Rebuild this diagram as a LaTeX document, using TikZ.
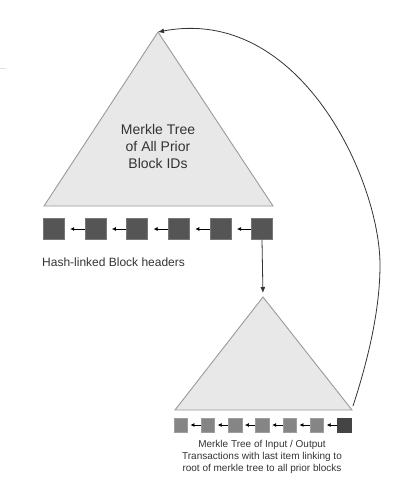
\documentclass[tikz,border=0pt]{standalone}
\usepackage{fontspec}
\setmainfont{Liberation Sans}
\usetikzlibrary{arrows.meta}
\definecolor{trifill}{HTML}{E8E8E8}
\definecolor{triedge}{HTML}{9A9A9A}
\definecolor{darksq}{HTML}{555555}
\definecolor{midsq}{HTML}{858585}
\definecolor{lastsq}{HTML}{444444}
\definecolor{txt}{HTML}{333333}
\tikzset{
  tri/.style={fill=trifill,draw=triedge,line width=0.9pt,line join=miter},
  bigsq/.style={draw=darksq!80!white,fill=darksq,minimum size=21pt,inner sep=0pt,line width=0.4pt},
  smallsq/.style={draw=midsq!80!white,fill=midsq,minimum size=13.5pt,inner sep=0pt,line width=0.4pt},
  link/.style={draw=black,line width=0.7pt,-{Latex[length=4pt,width=4pt]}},
  flow/.style={draw=black!80,line width=0.8pt,-{Latex[length=6pt,width=5pt]}},
  lbl/.style={text=txt,inner sep=0pt}
}
\begin{document}
\begin{tikzpicture}[x=1pt,y=-1pt]
\useasboundingbox (0,0) rectangle (410,485);
% faint mark at top left
\draw[black!12,line width=0.6pt] (0,68) -- (6,68);
% top triangle
\coordinate (ta) at (158,32);
\coordinate (tl) at (44,206);
\coordinate (tr) at (273,206);
\path[tri] (ta) -- (tl) -- (tr) -- cycle;
\node[lbl,align=center,font=\fontsize{14}{17}\selectfont] (ttext) at (158,146) {Merkle Tree\\of All Prior\\Block IDs};
% top squares
\foreach \i in {1,...,6} {
  \node[bigsq] (b\i) at ({53.5+41.7*(\i-1)},229) {};
}
\foreach \i [evaluate=\i as \j using int(\i+1)] in {1,...,5} {
  \draw[link,shorten >=6pt] (b\j.west) -- (b\i.east);
}
\node[lbl,anchor=west,font=\fontsize{12}{14}\selectfont] (hl) at (42,262) {Hash-linked Block headers};
% bottom triangle
\coordinate (ba) at (263,297);
\coordinate (bl) at (175,410);
\coordinate (br) at (352,410);
\path[tri] (ba) -- (bl) -- (br) -- cycle;
% bottom squares
\foreach \i in {1,...,7} {
  \node[smallsq] (s\i) at ({180.5+27.25*(\i-1)},425) {};
}
\node[smallsq,fill=lastsq,draw=lastsq] at (s7) {};
\foreach \i [evaluate=\i as \j using int(\i+1)] in {1,...,6} {
  \draw[link,shorten >=3pt] (s\j.west) -- (s\i.east);
}
\node[lbl,align=center,font=\fontsize{10}{12}\selectfont] (btext) at (262,457) {Merkle Tree of Input / Output\\Transactions with last item linking to\\root of merkle tree to all prior blocks};
% connectors
\draw[flow,shorten >=4pt] (b6.south) -- (ba);
\coordinate (cstart) at (353,406);
\coordinate (cmid) at (380,265);
\draw[flow] (cstart) .. controls (368,360) and (380,310) .. (cmid)
  .. controls (380,180) and (300,5) .. (ta);
\end{tikzpicture}
\end{document}
